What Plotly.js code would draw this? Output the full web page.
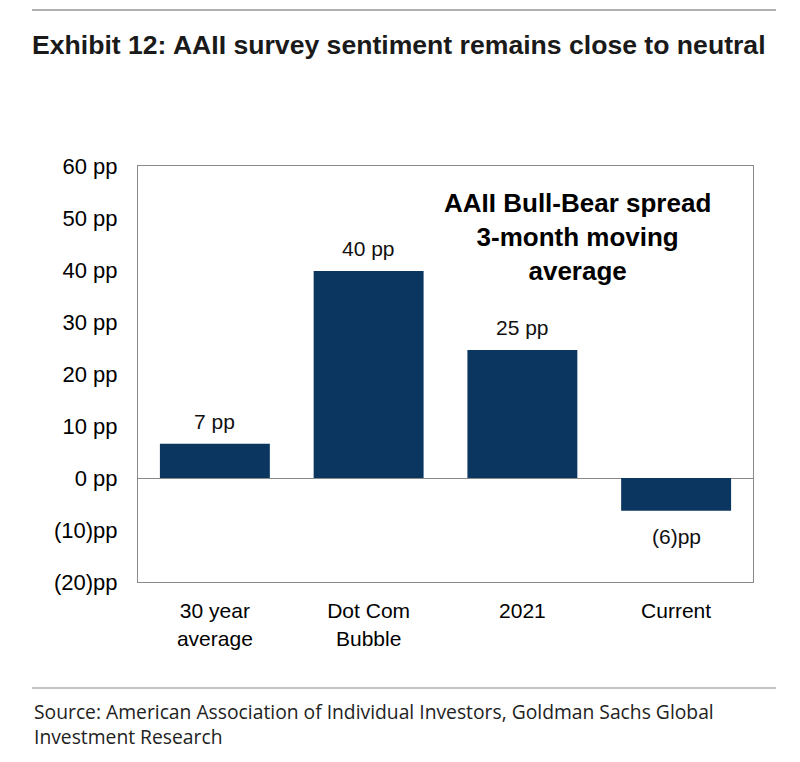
<!DOCTYPE html>
<html>
<head>
<meta charset="utf-8">
<script src="https://cdn.plot.ly/plotly-3.0.1.min.js"></script>
<style>html,body{margin:0;padding:0;background:#fff;}#chart{width:800px;height:762px;}</style>
</head>
<body>
<div id="chart"></div>
<script>
const categories = ["30 year average", "Dot Com Bubble", "2021", "Current"];
const categoryTickText = ["30 year<br>average", "Dot Com<br>Bubble", "2021", "Current"];
const spreadValues = [6.6, 39.8, 24.6, -6.3];
const valueLabels = ["7 pp", "40 pp", "25 pp", "(6)pp"];
const yTickVals = [60, 50, 40, 30, 20, 10, 0, -10, -20];
const yTickText = ["60 pp", "50 pp", "40 pp", "30 pp", "20 pp", "10 pp", "0 pp", "(10)pp", "(20)pp"];

const W = 800, H = 762;
const L = 138, R = 47, T = 166, B = 180;
const pw = W - L - R, ph = H - T - B;
const px = x => (x - L) / pw;
const py = y => (H - B - y) / ph;
const ARIAL = 'Liberation Sans, Arial, sans-serif';

const trace = {
  type: 'bar',
  x: categories,
  y: spreadValues,
  width: 0.715,
  marker: {color: '#0b3660', line: {width: 0}},
  hoverinfo: 'skip'
};

const annotations = spreadValues.map((v, i) => ({
  x: i, y: v, xref: 'x', yref: 'y',
  text: valueLabels[i], showarrow: false,
  yanchor: v >= 0 ? 'bottom' : 'top',
  yshift: v >= 0 ? 9 : -12,
  font: {family: ARIAL, size: 21, color: '#111'}
}));

annotations.push({
  xref: 'paper', yref: 'paper', x: px(577), y: py(237),
  text: '<b>AAII Bull-Bear spread<br>3-month moving<br>average</b>',
  showarrow: false, align: 'center', xanchor: 'center', yanchor: 'middle',
  font: {family: ARIAL, size: 26, color: '#000'}
});

annotations.push({
  xref: 'paper', yref: 'paper', x: px(32), y: py(696),
  xanchor: 'left', yanchor: 'top', align: 'left', showarrow: false,
  text: 'Source: American Association of Individual Investors, Goldman Sachs Global<br>Investment Research',
  font: {family: 'Open Sans, sans-serif', size: 19.3, color: '#222'}
});

const layout = {
  width: W, height: H,
  margin: {l: L, r: R, t: T, b: B, pad: 0},
  paper_bgcolor: '#fff', plot_bgcolor: '#fff',
  showlegend: false,
  title: {
    text: '<b>Exhibit 12: AAII survey sentiment remains close to neutral</b>',
    xref: 'container', yref: 'container', x: 32 / W, xanchor: 'left',
    y: 1 - 45 / H, yanchor: 'middle',
    font: {family: ARIAL, size: 26.6, color: '#1a1a1a'}
  },
  xaxis: {
    type: 'category',
    range: [-0.5, 3.5],
    tickvals: categories, ticktext: categoryTickText,
    showgrid: false, zeroline: false,
    showline: true, linecolor: '#8a8a8a', linewidth: 1, mirror: true,
    ticks: '', ticklabelstandoff: 10,
    tickfont: {family: ARIAL, size: 21, color: '#000'}
  },
  yaxis: {
    range: [-20, 60],
    tickvals: yTickVals, ticktext: yTickText,
    showgrid: false, zeroline: true, zerolinecolor: '#8a8a8a', zerolinewidth: 1,
    showline: true, linecolor: '#8a8a8a', linewidth: 1, mirror: true,
    ticks: '', ticklabelstandoff: 15,
    tickfont: {family: ARIAL, size: 22, color: '#000'}
  },
  shapes: [
    {type: 'line', xref: 'paper', yref: 'paper', x0: px(32), x1: px(776), y0: py(10), y1: py(10),
     line: {color: '#b0b0b0', width: 2}},
    {type: 'line', xref: 'paper', yref: 'paper', x0: px(32), x1: px(776), y0: py(688), y1: py(688),
     line: {color: '#b0b0b0', width: 1.5}}
  ],
  annotations: annotations
};

Plotly.newPlot('chart', [trace], layout, {displayModeBar: false, staticPlot: true});
</script>
</body>
</html>
